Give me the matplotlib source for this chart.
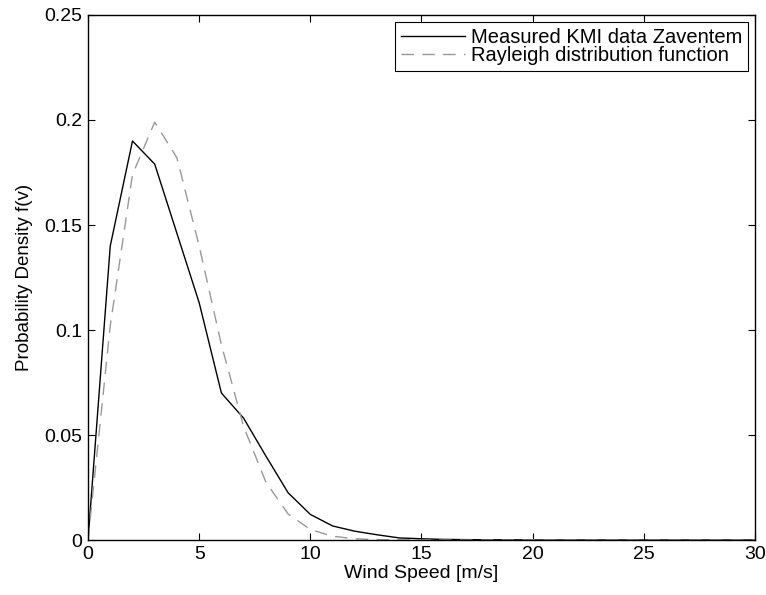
import matplotlib
matplotlib.use("Agg")
import matplotlib.pyplot as plt

plt.rcParams['font.family'] = ['Liberation Sans', 'DejaVu Sans']
plt.rcParams['font.size'] = 14

# wind speed bins [m/s]
speed = list(range(0, 31))

# measured probability density (KMI Zaventem)
measured = [0, 0.140, 0.190, 0.179, 0.146, 0.113, 0.070, 0.058, 0.040, 0.0225,
            0.0122, 0.0067, 0.0042, 0.0025, 0.0010, 0.0006, 0.0003, 0.0002, 0.0001, 0.0001,
            0, 0, 0, 0, 0, 0, 0, 0, 0, 0, 0]

# rayleigh fit
rayleigh = [0, 0.102, 0.174, 0.199, 0.182, 0.140, 0.093, 0.054, 0.0276, 0.0124,
            0.0050, 0.0018, 0.0006, 0.0002, 0.0001, 0, 0, 0, 0, 0,
            0, 0, 0, 0, 0, 0, 0, 0, 0, 0, 0]

yticks = [0, 0.05, 0.1, 0.15, 0.2, 0.25]
ytick_labels = ["0", "0.05", "0.1", "0.15", "0.2", "0.25"]
xticks = [0, 5, 10, 15, 20, 25, 30]

fig = plt.figure(figsize=(7.66, 5.95), dpi=100)
ax = fig.add_axes([0.1149, 0.0924, 0.8707, 0.8824])

ax.plot(speed, measured, color='black', linewidth=1.0, label='Measured KMI data Zaventem')
ax.plot(speed, rayleigh, color='#999999', linewidth=1.0, dashes=(9, 6),
        label='Rayleigh distribution function')

ax.set_xlim(0, 30)
ax.set_ylim(0, 0.25)
ax.set_xticks(xticks)
ax.set_xticklabels([str(t) for t in xticks])
ax.set_yticks(yticks)
ax.set_yticklabels(ytick_labels)
ax.tick_params(direction='in', length=5, width=0.8, top=True, right=True, labelsize=14, pad=4)
for s in ax.spines.values():
    s.set_linewidth(1.0)

ax.set_xlabel("Wind Speed [m/s]", fontsize=14, labelpad=2)
ax.set_ylabel("Probability Density f(v)", fontsize=13.5, labelpad=8)

leg = ax.legend(loc='upper right', fancybox=False, edgecolor='black', framealpha=1,
                handlelength=3.2, fontsize=14.5, borderpad=0.3, labelspacing=-0.05,
                borderaxespad=0.35, handletextpad=0.25)
leg.get_frame().set_linewidth(0.8)

fig.savefig("out.png", dpi=100)
